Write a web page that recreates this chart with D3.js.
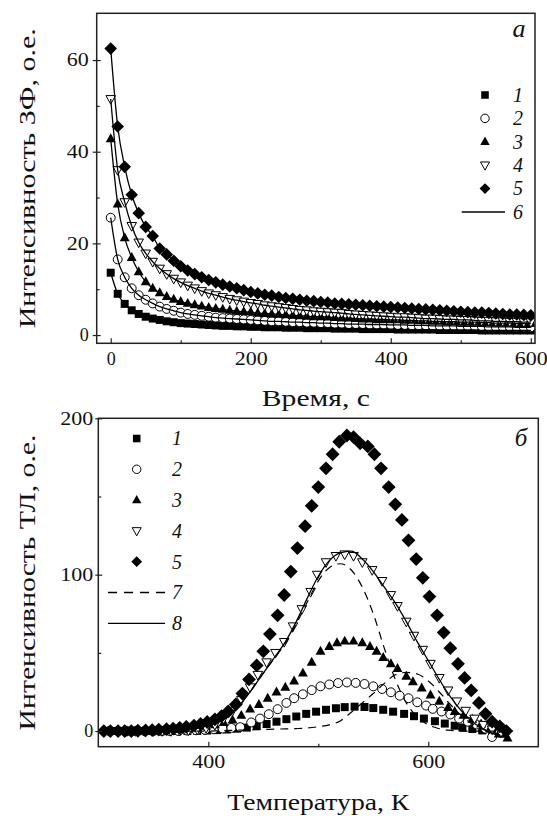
<!DOCTYPE html>
<html><head><meta charset="utf-8">
<script src="https://cdn.jsdelivr.net/npm/d3@7"></script>
<style>
body{margin:0;background:#fff}
svg{display:block}
text{font-family:"Liberation Serif","DejaVu Serif","Times New Roman",Tinos,"Noto Serif",FreeSerif,Times,serif;fill:#111}
</style>
</head><body>
<svg id="c" width="547" height="816"></svg>
<script>
// ---------- Panel a: afterglow (ЗФ) decay ----------
const timeS = [0,10,20,30,40,50,60,70,80,90,
  100,110,120,130,140,150,160,170,180,190,
  200,210,220,230,240,250,260,270,280,290,
  300,310,320,330,340,350,360,370,380,390,
  400,410,420,430,440,450,460,470,480,490,
  500,510,520,530,540,550,560,570,580,590,600];
const zf1 = [13.6,9.0,6.8,5.4,4.6,4.0,3.6,3.3,3.0,2.8,
  2.6,2.5,2.4,2.3,2.2,2.1,2.0,2.0,1.9,1.9,
  1.8,1.8,1.7,1.7,1.7,1.6,1.6,1.6,1.5,1.5,
  1.5,1.5,1.4,1.4,1.4,1.4,1.3,1.3,1.3,1.3,
  1.3,1.2,1.2,1.2,1.2,1.2,1.2,1.1,1.1,1.1,
  1.1,1.1,1.1,1.0,1.0,1.0,1.0,1.0,1.0,1.0,1.0];
const zf2 = [25.6,16.5,12.6,10.2,8.7,7.7,6.9,6.2,5.7,5.3,
  4.9,4.6,4.4,4.2,4.0,3.8,3.7,3.6,3.5,3.4,
  3.3,3.2,3.1,3.0,3.0,2.9,2.8,2.8,2.7,2.7,
  2.6,2.6,2.5,2.5,2.4,2.4,2.4,2.3,2.3,2.3,
  2.2,2.2,2.2,2.1,2.1,2.1,2.0,2.0,2.0,2.0,
  1.9,1.9,1.9,1.9,1.8,1.8,1.8,1.8,1.7,1.7,1.7];
const zf3 = [42.8,28.6,21.2,16.9,13.8,11.6,10.2,9.2,8.4,7.8,
  7.3,6.9,6.6,6.3,6.0,5.8,5.6,5.4,5.2,5.1,
  5.0,4.8,4.7,4.6,4.5,4.4,4.3,4.2,4.1,4.0,
  4.0,3.9,3.8,3.7,3.7,3.6,3.5,3.5,3.4,3.4,
  3.3,3.3,3.2,3.2,3.1,3.1,3.0,3.0,2.9,2.9,
  2.8,2.8,2.8,2.7,2.7,2.6,2.6,2.6,2.5,2.5,2.5];
const zf4 = [51.5,36.0,29.0,23.8,20.2,17.8,16.0,14.5,13.3,12.3,
  11.5,10.8,10.2,9.6,9.1,8.7,8.3,7.9,7.6,7.3,
  7.0,6.8,6.5,6.3,6.1,5.9,5.7,5.5,5.4,5.2,
  5.1,5.0,4.9,4.8,4.6,4.5,4.4,4.3,4.2,4.1,
  4.0,3.9,3.9,3.8,3.7,3.6,3.6,3.5,3.4,3.4,
  3.3,3.3,3.2,3.1,3.1,3.0,3.0,2.9,2.9,2.8,2.8];
const zf5 = [62.5,45.5,36.7,30.6,26.6,23.6,21.6,18.9,17.6,16.2,
  15.0,14.1,13.3,12.6,12.0,11.5,11.0,10.6,10.2,9.8,
  9.4,9.1,8.8,8.6,8.3,8.1,7.9,7.7,7.5,7.4,
  7.2,7.1,6.9,6.8,6.7,6.6,6.5,6.4,6.3,6.2,
  6.1,6.0,5.9,5.8,5.7,5.6,5.5,5.4,5.3,5.2,
  5.1,5.0,4.9,4.9,4.8,4.7,4.6,4.5,4.5,4.4,4.3];
const topXTicks = [0,200,400,600], topXMinor = [100,300,500];
const topYTicks = [0,20,40,60], topYMinor = [10,30,50];

// ---------- Panel б: thermoluminescence (ТЛ) ----------
const T1 = [309,318,327,336,345,354,363,372,381,390,399,408,417,426,435,444,453,462,471,480,489,498,507,516,524,533,542,550,559,568,578,587,596,606,615,624,631,640,649,658,667];
const tl1 = [0,0,0,0,0,0,0,0,0,0.1,0.3,0.6,1,1.5,2.2,3.2,4.5,6,7.6,9.3,11,12.4,13.6,14.6,15.3,15.6,15.4,14.7,13.6,12.4,11,9.5,8,6.3,4.8,3.4,2.3,1.3,0.4,-0.5,-1.5];
const T2 = [310,318,326,334,342,350,358,365,373,381,389,397,405,413,421,429,439,447,455,463,471,478,486,494,502,510,518,526,534,542,550,558,566,574,582,590,598,604,612,620,628,636,644,652,658];
const tl2 = [0,0,0,0,0,0,0,0,0,0.3,0.5,0.8,1.2,1.6,2,2.5,5.5,8,10.8,14,18,21,23.5,26.2,28.6,29.8,30.7,31.1,30.8,30.1,28.6,26.9,24.8,22.6,21,18.4,16.3,14.2,12.5,10.6,8,6,4.2,1.5,-3.8];
const T3 = [310,318,326,334,342,350,358,366,374,382,390,398,406,414,422,430,438,446,454,462,470,478,486,494,502,510,517,524,532,540,547,553,559,566,572,580,586,594,602,610,618,624,632,640,648,656,664,672];
const tl3 = [0,0,0,0,0,0,0,0.2,1,1.5,2.2,3,4,5.5,7,10,14,17,21,25,28,32,37,44,51,54,56.5,57.5,57.5,56.5,54,51,47,43,40,35,31.5,27.5,23,19,15,12.5,10,7.5,4.5,1.5,-2,-4.5];
const T4 = [310,318,326,334,342,350,358,366,374,382,390,398,406,414,422,430,438,445,453,461,469,477,485,493,499,507,516,524,532,540,549,558,566,572,580,587,595,602,610,618,626,634,642,650,658,666];
const tl4 = [0,0,0,0,0,0,0,0,0.2,0.5,1,2,4,8,13,20,28,36,44,50,57,67,78,89,100,108,112,113,112,108,103,96,87,80,70,61,52,43,34,26,19,13,8,4,1,-1];
const T5 = [305,311,318,324,330,336,343,349,355,362,368,374,380,387,393,399,406,412,418,425,431,437,444,450,456,463,469,475,481,488,494,500,507,513,519,526,532,538,545,551,557,564,570,576,582,589,595,601,608,614,620,627,633,639,646,652,658,665,671];
const tl5 = [0,0,0,0,0,0.2,0.4,0.6,0.9,1.2,1.6,2.1,2.7,3.5,4.5,5.8,7.5,9.5,12.5,17,24,33,42,51,62,74,87,102,117,131,144,156,168,177,185,189,188,184,182,177,168,156,145,135,122,110,98,86,74,63,53,43,34,26,18,11,6,3,0];
// fit curves: 7 = components (dashed), 8 = sum (solid)
const Tfit = [300,310,320,330,340,350,360,370,380,390,400,410,420,430,440,450,460,470,480,490,500,510,520,530,540,550,560,570,580,590,600,610,620,630,640,650,660,670];
const fit7a = [0,0,0,0,0,0,0.2,0.5,1,2,3.5,6,11,18,27,37,46.5,56,68.5,82.5,96,104.5,107,103,92,75,53,33,18,9,4,1.5,0.5,0,0,0,0,0];
const fit7b = [0,0,0,0,0,0,0,0,0,0,0,0.2,0.4,0.6,0.8,1,1.2,1.4,1.6,2,2.8,4,6.5,12,18,24,30.5,36,37.5,36.5,32,25,17,10,4.5,1,-1.5,-3];
const fit8 = [0,0,0,0,0,0,0.2,0.5,1,2,3.5,6,11,18,27,37,47,57,70,85,99,109,114,115,110,102,92,82,70,57,45,33,22,13,6,1.5,-2,-4];
const botXTicks = [400,600], botXMinor = [500];
const botYTicks = [0,100,200], botYMinor = [50,150];

const legendA = ["1","2","3","4","5","6"];
const legendB = ["1","2","3","4","5","7","8"];

// ---------- drawing ----------
const svg = d3.select("#c");
const FONT = "'Liberation Serif','DejaVu Serif','Times New Roman',Tinos,'Noto Serif',FreeSerif,Times,serif";

function marker(g, type, x, y, s) {
  if (type === "square") {
    g.append("rect").attr("x", x - s*0.42).attr("y", y - s*0.42)
      .attr("width", s*0.84).attr("height", s*0.84).attr("fill", "#000");
  } else if (type === "circle") {
    g.append("circle").attr("cx", x).attr("cy", y).attr("r", s*0.47)
      .attr("fill", "#fff").attr("stroke", "#000").attr("stroke-width", 1);
  } else if (type === "up") {
    g.append("path").attr("d", `M${x},${y - s*0.58}L${x + s*0.52},${y + s*0.36}L${x - s*0.52},${y + s*0.36}Z`)
      .attr("fill", "#000");
  } else if (type === "down") {
    g.append("path").attr("d", `M${x},${y + s*0.55}L${x + s*0.5},${y - s*0.36}L${x - s*0.5},${y - s*0.36}Z`)
      .attr("fill", "#fff").attr("stroke", "#000").attr("stroke-width", 1);
  } else if (type === "diamond") {
    g.append("path").attr("d", `M${x},${y - s*0.6}L${x + s*0.6},${y}L${x},${y + s*0.6}L${x - s*0.6},${y}Z`)
      .attr("fill", "#000");
  }
}
const types = ["square","circle","up","down","diamond"];

function styleAxis(g) {
  g.select(".domain").remove();
  g.selectAll(".tick line").attr("stroke", "#222").attr("stroke-width", 1.2);
  g.selectAll("text").style("font-family", FONT).attr("font-size", 18).attr("fill", "#111")
    .each(function() {
      const s = this.textContent;
      if (s.length > 1) d3.select(this).attr("textLength", 11 * s.length).attr("lengthAdjust", "spacingAndGlyphs");
    });
}
function title(g, txt, x, y, len, rot) {
  const t = g.append("text").attr("text-anchor", "middle").attr("font-size", 23)
    .style("font-family", FONT).attr("textLength", len).attr("lengthAdjust", "spacingAndGlyphs").text(txt);
  if (rot) t.attr("transform", `translate(${x},${y}) rotate(-90)`);
  else t.attr("x", x).attr("y", y);
}

// ===== Panel a =====
{
  const L = 96.7, R = 535, T = 13.3, B = 343.3;
  const x = d3.scaleLinear([-20, 606], [L, R]);
  const y = d3.scaleLinear([-1.8, 70.2], [B, T]);
  const g = svg.append("g");
  svg.append("clipPath").attr("id", "clipA").append("rect").attr("x", L).attr("y", T).attr("width", R-L).attr("height", B-T);
  const plot = g.append("g").attr("clip-path", "url(#clipA)");
  const series = [zf1, zf2, zf3, zf4, zf5];
  series.forEach((vals, i) => {
    vals.forEach((v, j) => marker(plot, types[i], x(timeS[j]), y(v), i === 4 ? 10.5 : 9.5));
  });
  const line = d3.line().x((d, j) => x(timeS[j])).y(d => y(d)).curve(d3.curveMonotoneX);
  series.forEach(vals => {
    plot.append("path").attr("d", line(vals)).attr("fill", "none").attr("stroke", "#000").attr("stroke-width", 1.3);
  });
  g.append("rect").attr("x", L).attr("y", T).attr("width", R-L).attr("height", B-T)
    .attr("fill", "none").attr("stroke", "#222").attr("stroke-width", 1.5);
  g.append("g").attr("transform", `translate(0,${B})`)
    .call(d3.axisBottom(x).tickValues(topXTicks).tickSize(-5).tickPadding(9)).call(styleAxis);
  g.append("g").attr("transform", `translate(0,${B})`)
    .call(d3.axisBottom(x).tickValues(topXMinor).tickSize(-3).tickFormat("")).call(styleAxis);
  g.append("g").attr("transform", `translate(${L},0)`)
    .call(d3.axisLeft(y).tickValues(topYTicks).tickSize(4).tickPadding(4)).call(styleAxis);
  g.append("g").attr("transform", `translate(${L},0)`)
    .call(d3.axisLeft(y).tickValues(topYTicks).tickSize(-4).tickFormat("")).call(styleAxis);
  g.append("g").attr("transform", `translate(${L},0)`)
    .call(d3.axisLeft(y).tickValues(topYMinor).tickSize(-3).tickFormat("")).call(styleAxis);
  title(g, "Время, с", (L+R)/2, 406, 108, false);
  title(g, "Интенсивность ЗФ, о.е.", 35, (T+B)/2, 300, true);
  g.append("text").attr("x", 519).attr("y", 37).attr("text-anchor", "middle").attr("font-size", 26)
    .style("font-family", FONT).attr("font-style", "italic").text("а");
  legendA.forEach((lab, i) => {
    const yy = 95 + i*23.4;
    if (i < 5) marker(g, types[i], 485, yy, 9);
    else g.append("line").attr("x1", 461.7).attr("x2", 505).attr("y1", yy).attr("y2", yy).attr("stroke", "#000").attr("stroke-width", 1.3);
    g.append("text").attr("x", 518).attr("y", yy).attr("dy", "0.34em").attr("text-anchor", "middle")
      .attr("font-size", 20).style("font-family", FONT).attr("font-style", "italic").text(lab);
  });
}

// ===== Panel б =====
{
  const L = 98.3, R = 538.3, T = 418.3, B = 746.7;
  const x = d3.scaleLinear([300, 700], [L, R]);
  const y = d3.scaleLinear([-10, 200], [B, T]);
  const g = svg.append("g");
  svg.append("clipPath").attr("id", "clipB").append("rect").attr("x", L).attr("y", T).attr("width", R-L).attr("height", B-T);
  const plot = g.append("g").attr("clip-path", "url(#clipB)");
  const temps = [T1, T2, T3, T4, T5];
  const series = [tl1, tl2, tl3, tl4, tl5];
  series.forEach((vals, i) => {
    vals.forEach((v, j) => marker(plot, types[i], x(temps[i][j]), y(v), i === 4 ? 11.5 : 9.5));
  });
  const line = d3.line().x((d, j) => x(Tfit[j])).y(d => y(d)).curve(d3.curveMonotoneX);
  [fit7a, fit7b].forEach(vals => {
    plot.append("path").attr("d", line(vals)).attr("fill", "none").attr("stroke", "#000")
      .attr("stroke-width", 1.2).attr("stroke-dasharray", "8,6");
  });
  plot.append("path").attr("d", line(fit8)).attr("fill", "none").attr("stroke", "#000").attr("stroke-width", 1.3);
  g.append("rect").attr("x", L).attr("y", T).attr("width", R-L).attr("height", B-T)
    .attr("fill", "none").attr("stroke", "#222").attr("stroke-width", 1.5);
  g.append("g").attr("transform", `translate(0,${B})`)
    .call(d3.axisBottom(x).tickValues(botXTicks).tickSize(-5).tickPadding(9)).call(styleAxis);
  g.append("g").attr("transform", `translate(0,${B})`)
    .call(d3.axisBottom(x).tickValues(botXMinor).tickSize(-3).tickFormat("")).call(styleAxis);
  g.append("g").attr("transform", `translate(${L},0)`)
    .call(d3.axisLeft(y).tickValues(botYTicks).tickSize(3).tickPadding(2)).call(styleAxis);
  g.append("g").attr("transform", `translate(${L},0)`)
    .call(d3.axisLeft(y).tickValues(botYTicks).tickSize(-4).tickFormat("")).call(styleAxis);
  g.append("g").attr("transform", `translate(${L},0)`)
    .call(d3.axisLeft(y).tickValues(botYMinor).tickSize(-3).tickFormat("")).call(styleAxis);
  title(g, "Температура, К", (L+R)/2, 810, 182, false);
  title(g, "Интенсивность ТЛ, о.е.", 35, (T+B)/2, 296, true);
  g.append("text").attr("x", 521).attr("y", 446).attr("text-anchor", "middle").attr("font-size", 25)
    .style("font-family", FONT).attr("font-style", "italic").text("б");
  legendB.forEach((lab, i) => {
    const yy = 438.5 + i*30.8;
    if (i < 5) marker(g, types[i], 136.7, yy, 9);
    else {
      const ln = g.append("line").attr("x1", 108).attr("x2", 165).attr("y1", yy).attr("y2", yy)
        .attr("stroke", "#000").attr("stroke-width", 1.3);
      if (i === 5) ln.attr("stroke-dasharray", "9,7");
    }
    g.append("text").attr("x", 177).attr("y", yy).attr("dy", "0.34em").attr("text-anchor", "middle")
      .attr("font-size", 20).style("font-family", FONT).attr("font-style", "italic").text(lab);
  });
}
</script>
</body></html>
